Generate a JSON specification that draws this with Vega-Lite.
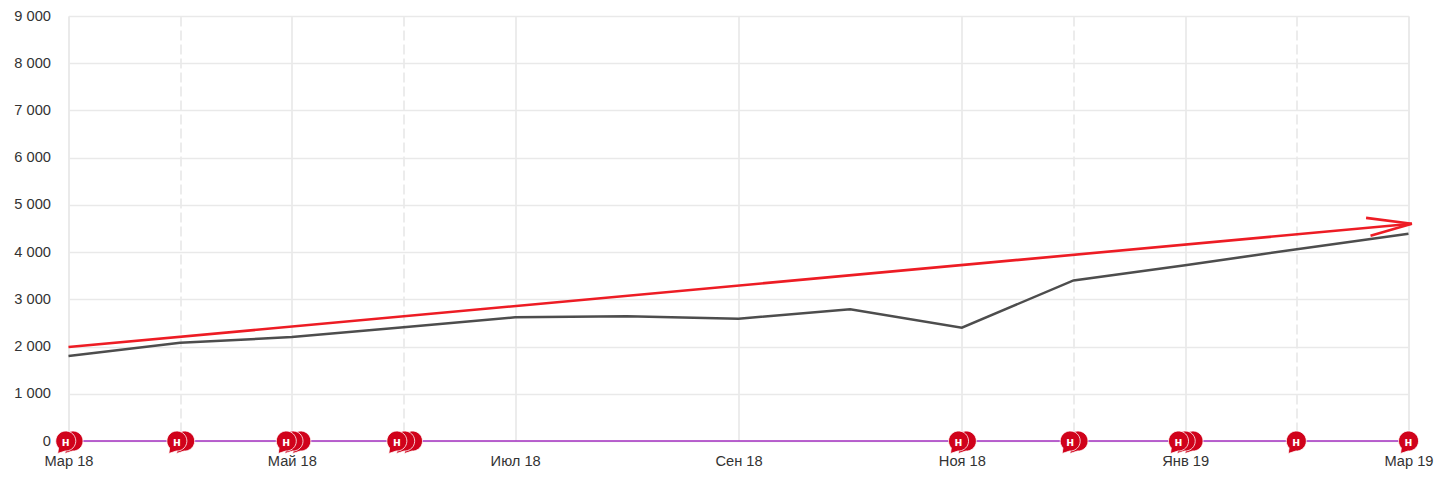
{
"$schema":"https://vega.github.io/schema/vega-lite/v6.json",
"width":1340,"height":425,"autosize":"none",
"padding":{"left":68.5,"top":16,"right":37.5,"bottom":36},
"background":"white",
"datasets":{
"fact":[{"m":0,"v":1800},{"m":1,"v":2080},{"m":2,"v":2200},{"m":3,"v":2410},{"m":4,"v":2620},{"m":5,"v":2640},{"m":6,"v":2590},{"m":7,"v":2790},{"m":8,"v":2400},{"m":9,"v":3400},{"m":10,"v":3720},{"m":10.64,"v":3940},{"m":11,"v":4060},{"m":12,"v":4390}],
"plan":[{"m":0,"v":1990,"s":"line","o":0},{"m":12.03,"v":4600,"s":"line","o":1},{"m":11.62,"v":4725,"s":"barb","o":0},{"m":12.03,"v":4600,"s":"barb","o":1},{"m":11.66,"v":4345,"s":"barb","o":2}],
"notes":[{"m":0,"v":0},{"m":1,"v":0},{"m":2,"v":0},{"m":3,"v":0},{"m":4,"v":0},{"m":5,"v":0},{"m":6,"v":0},{"m":7,"v":0},{"m":8,"v":0},{"m":9,"v":0},{"m":10,"v":0},{"m":11,"v":0},{"m":12,"v":0}],
"flags":[
{"m":12.0,"v":0,"t":"н"},{"m":10.995,"v":0,"t":"н"},
{"m":10.07,"v":0,"t":""},{"m":10.0,"v":0,"t":""},{"m":9.94,"v":0,"t":"н"},
{"m":9.04,"v":0,"t":""},{"m":8.97,"v":0,"t":"н"},
{"m":8.04,"v":0,"t":""},{"m":7.97,"v":0,"t":"н"},
{"m":3.08,"v":0,"t":""},{"m":3.01,"v":0,"t":""},{"m":2.94,"v":0,"t":"н"},
{"m":2.08,"v":0,"t":""},{"m":2.01,"v":0,"t":""},{"m":1.95,"v":0,"t":"н"},
{"m":1.04,"v":0,"t":""},{"m":0.97,"v":0,"t":"н"},
{"m":0.04,"v":0,"t":""},{"m":-0.025,"v":0,"t":"н"}
]},
"encoding":{
"x":{"field":"m","type":"quantitative","title":null,"scale":{"domain":[0,12],"nice":false,"zero":false},
"axis":{"values":[0,1,2,3,4,6,8,9,10,11,12],"domain":false,"ticks":false,"grid":true,"gridColor":"#e9e9e9","gridWidth":1.7,
"gridDash":{"condition":{"test":"datum.value % 2 == 1","value":[10,4]},"value":[]},
"labelFont":"Liberation Sans","labelFontSize":14.67,"labelColor":"#333333","labelPadding":12,"labelOverlap":false,"labelFlush":false,
"labelExpr":"['Мар 18','','Май 18','','Июл 18','','Сен 18','','Ноя 18','','Янв 19','','Мар 19'][datum.value]"}},
"y":{"field":"v","type":"quantitative","title":null,"scale":{"domain":[0,9000],"nice":false},
"axis":{"values":[0,1000,2000,3000,4000,5000,6000,7000,8000,9000],"domain":false,"ticks":false,"grid":true,"gridColor":"#e9e9e9","gridWidth":1.7,
"labelFont":"Liberation Sans","labelFontSize":14.67,"labelColor":"#333333","labelPadding":18,
"labelExpr":"replace(format(datum.value,','),',',' ')"}}
},
"layer":[
{"data":{"name":"fact"},"mark":{"type":"line","color":"#4d4d4d","strokeWidth":2.5,"clip":false}},
{"data":{"name":"notes"},"mark":{"type":"line","color":"#a32fc0","strokeWidth":1.5,"clip":false}},
{"data":{"name":"plan"},"mark":{"type":"line","color":"#ed1c24","strokeWidth":2.6,"clip":false},"encoding":{"detail":{"field":"s"},"order":{"field":"o"}}},
{"data":{"name":"flags"},"mark":{"type":"point","filled":true,"fill":"#d0021b","stroke":"#ffffff","strokeWidth":0.8,"opacity":1,"size":400,"clip":false,
"shape":"M-0.72,0.69 L-0.8,1.25 L-0.05,1.0 A1,1 0 1,0 -0.72,0.69 Z"}},
{"data":{"name":"flags"},"mark":{"type":"text","color":"#ffffff","font":"Liberation Sans","fontWeight":"bold","fontSize":13,"dy":1,"clip":false},"encoding":{"text":{"field":"t"}}}
]
}
